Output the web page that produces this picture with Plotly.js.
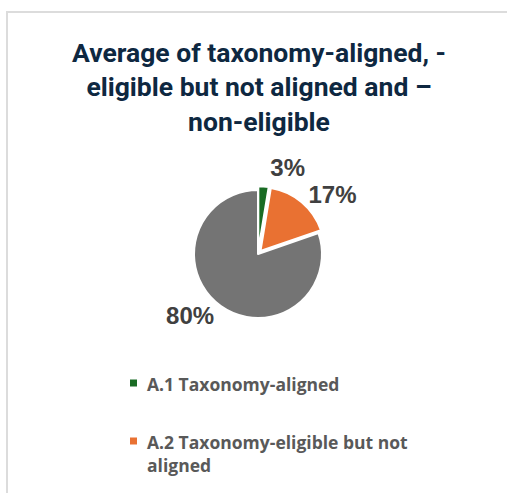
<!DOCTYPE html>
<html>
<head>
<meta charset="utf-8">
<script src="https://cdn.plot.ly/plotly-3.0.1.min.js"></script>
<style>
  html, body { margin: 0; padding: 0; background: #ffffff; overflow: hidden; }
  #wrap { position: relative; width: 507px; height: 493px; overflow: hidden; }
  #frame { position: absolute; left: 6px; top: 11px; width: 620px; height: 620px;
           border: 2px solid #dcdcdc; box-sizing: border-box; pointer-events: none; }
  #chart { position: absolute; left: 0; top: 0; width: 507px; height: 493px; }
  .pielayer path.textline { display: none; }
</style>
</head>
<body>
<div id="wrap">
  <div id="chart"></div>
  <div id="frame"></div>
</div>
<script>
// ---- data ----
const titleText = "Average of taxonomy-aligned, -<br>eligible but not aligned and –<br>non-eligible";
const labels = ["A.1 Taxonomy-aligned", "A.2 Taxonomy-eligible but not<br>aligned", "B. Taxonomy-non-eligible"];
const values = [2.6, 17.1, 80.3];
const colors = ["#196B24", "#E97132", "#747474"];
const pulls = [0.06, 0.06, 0];

// ---- layout helpers ----
const W = 507, H = 493;
const px = x => x / W;
const py = y => 1 - y / H;

const cx = 258, cy = 254, r = 64;
const maxPull = Math.max(...pulls);
const box = r * (2 + 2 * maxPull);

const annotations = [];
const shapes = [];
let yTop = 370;
labels.forEach((lab, i) => {
  const nLines = lab.split("<br>").length;
  if (yTop + 20 * nLines < H) {
    annotations.push({
      xref: "paper", yref: "paper",
      x: px(145), y: py(yTop), xanchor: "left", yanchor: "top",
      align: "left", showarrow: false, text: lab,
      font: { family: "Open Sans, sans-serif", size: 17.5, color: "#595959", weight: "bold" }
    });
    const mid = yTop + 13;
    shapes.push({
      type: "rect", xref: "paper", yref: "paper",
      x0: px(130), x1: px(137), y0: py(mid - 3.5), y1: py(mid + 3.5),
      fillcolor: colors[i], line: { width: 0 }
    });
  }
  yTop += 58 + (nLines - 1) * 25;
});

const trace = {
  type: "pie",
  labels: labels,
  values: values,
  sort: false,
  direction: "clockwise",
  rotation: 0,
  pull: pulls,
  marker: { colors: colors, line: { color: "#ffffff", width: 2 } },
  textinfo: "percent",
  texttemplate: "%{percent:.0%}",
  textposition: "outside",
  textfont: { family: "Liberation Sans, Arial, sans-serif", size: 24, color: "#404040", weight: "bold" },
  showlegend: false,
  hoverinfo: "skip",
  domain: {
    x: [px(cx - box / 2), px(cx + box / 2)],
    y: [py(cy + box / 2), py(cy - box / 2)]
  },
  automargin: false
};

const layout = {
  width: W, height: H,
  margin: { l: 0, r: 0, t: 0, b: 0, pad: 0 },
  paper_bgcolor: "#ffffff",
  plot_bgcolor: "#ffffff",
  showlegend: false,
  title: {
    text: titleText,
    x: px(259), xanchor: "center", xref: "paper",
    y: 1 - 62 / H, yanchor: "top", yref: "container",
    font: { family: "Roboto, sans-serif", size: 26.5, color: "#0E2841", weight: "bold" }
  },
  annotations: annotations,
  shapes: shapes
};

Plotly.newPlot("chart", [trace], layout, { displayModeBar: false, staticPlot: true });
</script>
</body>
</html>
